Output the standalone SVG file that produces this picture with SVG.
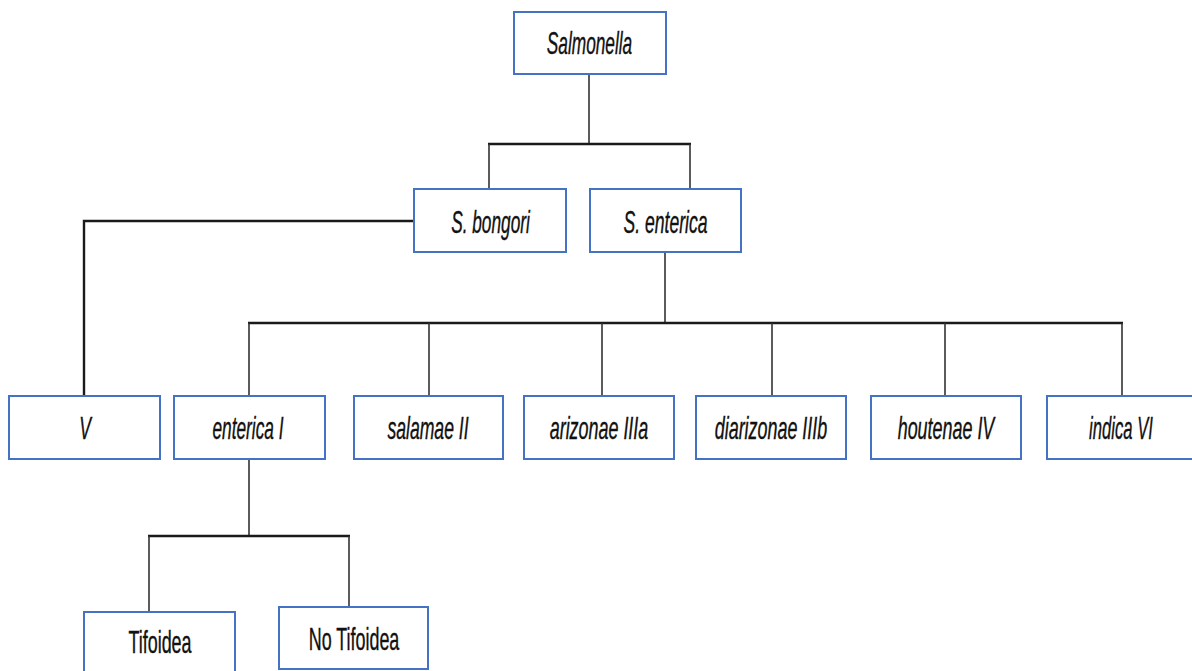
<svg xmlns="http://www.w3.org/2000/svg" width="1192" height="671" viewBox="0 0 1192 671">
  <style>
    .box { fill: #ffffff; stroke: #4472c4; stroke-width: 2; }
    .lbl { font-family: "Liberation Sans", Arial, sans-serif; font-size: 32px; fill: #111; stroke: #111; stroke-width: 0.4; text-anchor: middle; }
    .it { font-style: italic; }
    .wire { stroke: #1a1a1a; stroke-width: 2.4; fill: none; }
    .drop { stroke: #333; stroke-width: 1.6; fill: none; }
  </style>
  <rect width="1192" height="671" fill="#ffffff"/>

  <g id="connectors">
    <line class="drop" x1="589" y1="74" x2="589" y2="144"/>
    <line class="wire" x1="488" y1="144" x2="691" y2="144"/>
    <line class="drop" x1="489" y1="144" x2="489" y2="189"/>
    <line class="drop" x1="690" y1="144" x2="690" y2="189"/>
    <polyline class="wire" points="414,221 84,221 84,396"/>
    <line class="drop" x1="665" y1="252" x2="665" y2="323"/>
    <line class="wire" x1="248" y1="323" x2="1123" y2="323"/>
    <line class="drop" x1="249" y1="323" x2="249" y2="396"/>
    <line class="drop" x1="429" y1="323" x2="429" y2="396"/>
    <line class="drop" x1="602" y1="323" x2="602" y2="396"/>
    <line class="drop" x1="772" y1="323" x2="772" y2="396"/>
    <line class="drop" x1="945" y1="323" x2="945" y2="396"/>
    <line class="drop" x1="1122" y1="323" x2="1122" y2="396"/>
    <line class="drop" x1="249" y1="459" x2="249" y2="536"/>
    <line class="wire" x1="148" y1="536" x2="350" y2="536"/>
    <line class="drop" x1="149" y1="536" x2="149" y2="612"/>
    <line class="drop" x1="349" y1="536" x2="349" y2="609"/>
  </g>

  <!-- labels are set in a horizontally condensed face: scale(0.55, 1) -->
  <g id="salmonella">
    <rect class="box" x="514" y="12" width="152" height="62"/>
    <text class="lbl it" transform="translate(589.5 54) scale(0.54 1)">Salmonella</text>
  </g>
  <g id="s-bongori">
    <rect class="box" x="414" y="189" width="152" height="63"/>
    <text class="lbl it" transform="translate(490.5 233) scale(0.54 1)">S. bongori</text>
  </g>
  <g id="s-enterica">
    <rect class="box" x="590" y="189" width="151" height="63"/>
    <text class="lbl it" transform="translate(665.5 233) scale(0.55 1)">S. enterica</text>
  </g>

  <g id="v">
    <rect class="box" x="9" y="396" width="151" height="63"/>
    <text class="lbl it" transform="translate(85 439) scale(0.55 1)">V</text>
  </g>
  <g id="enterica-i">
    <rect class="box" x="174" y="396" width="151" height="63"/>
    <text class="lbl it" transform="translate(248 439) scale(0.54 1)">enterica I</text>
  </g>
  <g id="salamae-ii">
    <rect class="box" x="354" y="396" width="149" height="63"/>
    <text class="lbl it" transform="translate(428 439) scale(0.55 1)">salamae II</text>
  </g>
  <g id="arizonae-iiia">
    <rect class="box" x="524" y="396" width="150" height="63"/>
    <text class="lbl it" transform="translate(599 439) scale(0.56 1)">arizonae IIIa</text>
  </g>
  <g id="diarizonae-iiib">
    <rect class="box" x="696" y="396" width="150" height="63"/>
    <text class="lbl it" transform="translate(771 439) scale(0.56 1)">diarizonae IIIb</text>
  </g>
  <g id="houtenae-iv">
    <rect class="box" x="871" y="396" width="150" height="63"/>
    <text class="lbl it" transform="translate(946 439) scale(0.56 1)">houtenae IV</text>
  </g>
  <g id="indica-vi">
    <rect class="box" x="1047" y="396" width="160" height="63"/>
    <text class="lbl it" transform="translate(1121 439) scale(0.52 1)">indica VI</text>
  </g>

  <g id="tifoidea">
    <rect class="box" x="84" y="612" width="151" height="70"/>
    <text class="lbl" transform="translate(160 653) scale(0.56 1)">Tifoidea</text>
  </g>
  <g id="no-tifoidea">
    <rect class="box" x="279" y="607" width="149" height="62"/>
    <text class="lbl" transform="translate(354 650) scale(0.56 1)">No Tifoidea</text>
  </g>
</svg>
